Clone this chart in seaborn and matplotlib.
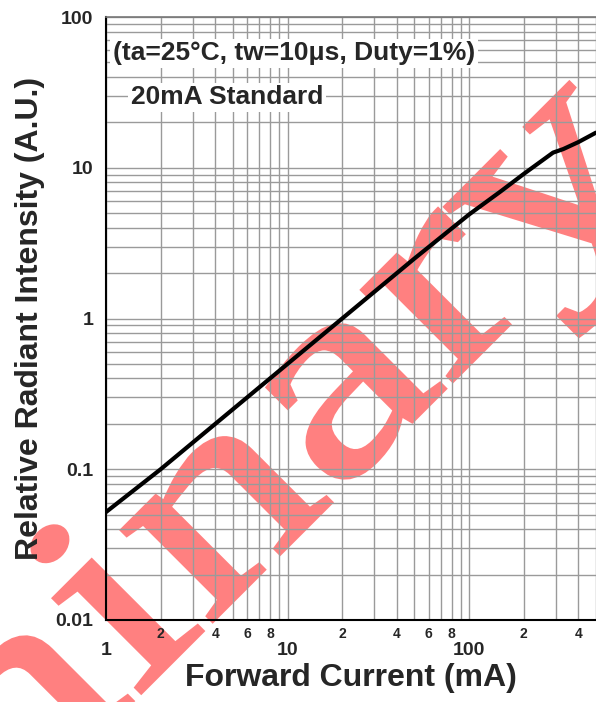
import numpy as np
import pandas as pd
import matplotlib
matplotlib.use("Agg")
import matplotlib.pyplot as plt
import seaborn as sns
from matplotlib.ticker import FixedLocator, FixedFormatter, NullFormatter, FuncFormatter
from matplotlib.patheffects import AbstractPathEffect
from matplotlib.transforms import Affine2D

# ---- data ----
current_ma = [1, 2, 5, 10, 20, 50, 100, 150, 200, 290, 330, 400, 500]
rel_intensity = [0.052, 0.10, 0.25, 0.50, 1.0, 2.5, 4.9, 7.0, 9.1, 12.6, 13.3, 14.8, 17.1]

major_x_ticks = [1, 10, 100]
major_x_labels = ["1", "10", "100"]
minor_x_ticks = [2, 4, 6, 8, 20, 40, 60, 80, 200, 400]
minor_x_labels = ["2", "4", "6", "8", "2", "4", "6", "8", "2", "4"]
y_ticks = [0.01, 0.1, 1, 10, 100]
y_labels = ["0.01", "0.1", "1", "10", "100"]

title_cond = "(ta=25\u00b0C, tw=10\u03bcs, Duty=1%)"
title_std = "20mA Standard"
x_title = "Forward Current (mA)"
y_title = "Relative Radiant Intensity (A.U.)"
watermark = "Preliminary"

df = pd.DataFrame({"I": current_ma, "R": rel_intensity})

sns.set_style("white")
plt.rcParams["font.family"] = ["Liberation Sans", "DejaVu Sans"]

W, H = 596, 702
fig = plt.figure(figsize=(W / 100, H / 100), dpi=100)
L, R, T, B = 106, 596, 17, 620
ax = fig.add_axes([L / W, 1 - B / H, (R - L) / W, (B - T) / H])
ax.patch.set_alpha(0)


class HStretch(AbstractPathEffect):
    """Stretch glyphs along the baseline and thicken them slightly."""
    def __init__(self, sx, lw):
        super().__init__()
        self.sx = sx
        self.lw = lw

    def draw_path(self, renderer, gc, tpath, affine, rgbFace=None):
        aff = Affine2D().scale(self.sx, 1.0) + affine
        gc0 = renderer.new_gc()
        gc0.copy_properties(gc)
        gc0.set_linewidth(self.lw)
        gc0.set_foreground(rgbFace)
        gc0.set_joinstyle("miter")
        renderer.draw_path(gc0, tpath, aff, rgbFace)
        gc0.restore()


# watermark behind everything
wm = fig.text(-545 / W, 1 - 1378 / H, watermark, rotation=45, rotation_mode="anchor",
              ha="left", va="baseline", fontsize=200, color="#ff8080",
              family=["Liberation Serif", "DejaVu Serif"], zorder=-5)
wm.set_path_effects([HStretch(1.3, 3.5)])

sns.lineplot(data=df, x="I", y="R", ax=ax, color="black", linewidth=3.0, zorder=5)

ax.set_xscale("log")
ax.set_yscale("log")
ax.set_xlim(1, 500)
ax.set_ylim(0.01, 100)

# grid
ax.grid(True, which="both", color="#9a9a9a", linewidth=1.0, zorder=1)
ax.set_axisbelow(True)

ax.xaxis.set_major_locator(FixedLocator(major_x_ticks))
ax.xaxis.set_major_formatter(FixedFormatter(major_x_labels))
ax.yaxis.set_major_locator(FixedLocator(y_ticks))
ax.yaxis.set_major_formatter(FixedFormatter(y_labels))
ax.yaxis.set_minor_formatter(NullFormatter())

# minor x gridlines at every 2..9, labels only at 2,4,6,8
all_minor = [m * d for d in (1, 10, 100) for m in range(2, 10) if m * d <= 500]
ax.xaxis.set_minor_locator(FixedLocator(all_minor))
lab_map = dict(zip(minor_x_ticks, minor_x_labels))
ax.xaxis.set_minor_formatter(FuncFormatter(lambda v, p: lab_map.get(int(round(v)), "")))

ax.tick_params(axis="x", which="major", length=0, pad=16, labelsize=14)
ax.tick_params(axis="x", which="minor", length=0, pad=5, labelsize=10)
ax.tick_params(axis="y", which="both", length=0, pad=9, labelsize=14)
for lbl in ax.get_xticklabels(which="both") + ax.get_yticklabels():
    lbl.set_fontweight("bold")

for s in ["left", "bottom"]:
    ax.spines[s].set_color("black")
    ax.spines[s].set_linewidth(1.5)
ax.spines["top"].set_color("#777777")
ax.spines["top"].set_linewidth(1.2)
ax.spines["right"].set_visible(False)

ax.set_xlabel(x_title, fontsize=23, fontweight="bold", labelpad=3)
ax.set_ylabel(y_title, fontsize=23, fontweight="bold", labelpad=8)

box = dict(boxstyle="square,pad=0.1", facecolor="white", edgecolor="none")
ax.text(0.014, 0.940, title_cond, transform=ax.transAxes, ha="left", va="center",
        fontsize=19, fontweight="bold", bbox=box, zorder=6)
ax.text(0.051, 0.867, title_std, transform=ax.transAxes, ha="left", va="center",
        fontsize=19, fontweight="bold", bbox=box, zorder=6)

fig.savefig("out.png", dpi=100)
